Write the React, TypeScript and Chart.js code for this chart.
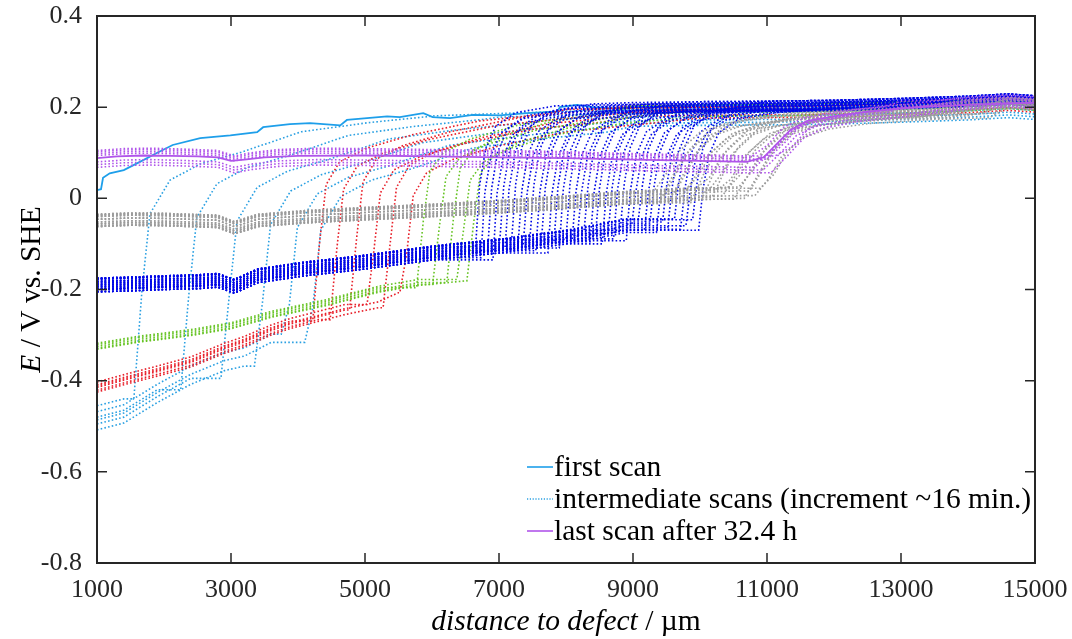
import { useEffect, useRef } from "react";
import { Chart, registerables } from "chart.js";

Chart.register(...registerables);

type P = [number, number];

// ---- axes ----
const xTicks = [1000, 3000, 5000, 7000, 9000, 11000, 13000, 15000];
const yTicks = [-0.8, -0.6, -0.4, -0.2, 0, 0.2, 0.4];
const yTickLabels = ["-0.8", "-0.6", "-0.4", "-0.2", "0", "0.2", "0.4"];

// ---- first & last scans ----
const firstScan: P[] = [
  [1000, 0.018], [1060, 0.02], [1090, 0.045], [1190, 0.055], [1400, 0.062], [1640, 0.08],
  [1900, 0.1], [2130, 0.117], [2540, 0.132], [2990, 0.138], [3390, 0.145], [3480, 0.156],
  [3880, 0.163], [4180, 0.165], [4630, 0.16], [4730, 0.172], [5030, 0.176], [5330, 0.18],
  [5520, 0.178], [5870, 0.187], [6010, 0.178], [6270, 0.176], [6610, 0.183], [7010, 0.182],
  [7420, 0.187], [7870, 0.19], [7910, 0.2], [8160, 0.205], [8400, 0.2], [8660, 0.198],
  [9000, 0.2], [9600, 0.203], [10300, 0.205], [11000, 0.205], [11800, 0.208], [12600, 0.21],
  [13400, 0.213], [14200, 0.217], [15000, 0.22],
];
const lastScan: P[] = [
  [1000, 0.088], [1300, 0.092], [1700, 0.094], [2100, 0.093], [2500, 0.092], [2800, 0.09],
  [3000, 0.082], [3200, 0.085], [3500, 0.09], [4000, 0.093], [5000, 0.094], [6000, 0.092],
  [7000, 0.09], [8000, 0.088], [9000, 0.085], [10000, 0.082], [10700, 0.08], [10950, 0.09],
  [11150, 0.12], [11350, 0.15], [11600, 0.17], [12000, 0.18], [12500, 0.19], [13000, 0.198],
  [14000, 0.205], [15000, 0.21],
];

// common plateau the intermediate scans end on
const plateauTail: P[] = [
  [5000, 0.18], [6000, 0.186], [7000, 0.19], [8000, 0.195], [9000, 0.198], [10000, 0.2],
  [11000, 0.201], [12000, 0.203], [13000, 0.207], [14000, 0.212], [14600, 0.217], [15000, 0.213],
];

// ---- light blue (early) scans ----
const lightBlueLow: P[] = [
  [1000, -0.48], [1400, -0.465], [1900, -0.42], [2400, -0.38], [2900, -0.35], [3200, -0.34],
  [3600, -0.31], [4100, -0.28],
];
const lightBlueRise: P[] = [
  [120, -0.2], [240, -0.03], [540, 0.044], [1000, 0.08], [1600, 0.105], [2000, 0.125],
  [2500, 0.15], [3500, 0.17], [4500, 0.185],
];
const lightBlueFronts = [1550, 2250, 2850, 3350, 3750, 4100];
const lightBlueLowShift = [0.025, 0.0, -0.015, -0.028, 0.012, -0.006];
const lightBlueTopShift = [-0.004, -0.012, -0.02, -0.028, -0.034, -0.04];

// ---- red scans ----
const redLow: P[] = [
  [1000, -0.415], [1500, -0.395], [1900, -0.38], [2400, -0.36], [2900, -0.33], [3200, -0.315],
  [3600, -0.29], [3900, -0.275], [4300, -0.26], [4700, -0.245], [5200, -0.23], [5500, -0.21],
];
const redRise: P[] = [
  [100, -0.1], [200, 0.03], [400, 0.08], [800, 0.11], [1500, 0.14], [2500, 0.17], [3500, 0.185],
];
const redFronts = [4220, 4480, 4770, 5030, 5270, 5520];
const redLowShift = [0.006, -0.006, 0.0, 0.012, -0.01, 0.003];
const redTopShift = [0.0, -0.01, 0.006, -0.018, -0.006, -0.024];

// ---- green scans ----
const greenLow: P[] = [
  [1000, -0.325], [1600, -0.31], [2400, -0.295], [3000, -0.28], [3600, -0.255], [4400, -0.23],
  [5200, -0.2], [5800, -0.185], [6500, -0.175],
];
const greenRise: P[] = [
  [100, -0.05], [200, 0.06], [400, 0.1], [800, 0.13], [1500, 0.16], [2500, 0.185],
];
const greenFronts = [5770, 6010, 6220, 6370, 6520];
const greenLowShift = [0.004, -0.004, 0.0, 0.007, -0.006];
const greenTopShift = [0.0, -0.012, 0.006, -0.02, -0.006];

// ---- blue scans ----
const blueLow: P[] = [
  [1000, -0.19], [1500, -0.188], [2000, -0.185], [2500, -0.183], [2800, -0.18], [3050, -0.193],
  [3400, -0.17], [4100, -0.155], [5000, -0.14], [6000, -0.12], [7000, -0.105], [8000, -0.085],
  [8900, -0.06], [9500, -0.06], [10000, -0.065],
];
const blueRise: P[] = [
  [60, 0.02], [150, 0.1], [300, 0.15], [600, 0.18], [1200, 0.195],
];
const blueFronts = [
  6650, 6730, 6830, 6910, 7010, 7090, 7190, 7280, 7360, 7460, 7550, 7630, 7730, 7820, 7900,
  8000, 8090, 8170, 8270, 8360, 8440, 8540, 8630, 8710, 8810, 8900, 8980, 9080, 9170, 9250,
  9350, 9440, 9520, 9620, 9710, 9790, 9890, 9980,
];
const blueLowShift = [0.013, -0.01, 0.004, -0.015, 0.008, -0.004, 0.015, -0.008, 0.0];
const blueTopShift = [0.008, -0.006, 0.002, -0.01, 0.005, 0.0, 0.012, -0.004, -0.008];

// ---- grey scans ----
const greyLow: P[] = [
  [1000, -0.05], [1500, -0.047], [2000, -0.048], [2800, -0.052], [3050, -0.066], [3400, -0.05],
  [4100, -0.042], [5000, -0.035], [6000, -0.028], [7000, -0.02], [8000, -0.01], [8900, 0.0],
  [9900, 0.008], [10500, 0.012], [10900, 0.015],
];
const greyRise: P[] = [
  [200, 0.06], [400, 0.11], [700, 0.15], [1100, 0.17], [1700, 0.182], [2500, 0.19], [3500, 0.195],
];
const greyFronts = [
  9300, 9380, 9460, 9540, 9620, 9700, 9780, 9860, 9940, 10020, 10100, 10180, 10260, 10340,
  10420, 10500, 10580, 10660, 10740, 10820, 10900,
];
const greyLowShift = [0.013, -0.012, 0.004, -0.006, 0.01, -0.002, 0.015, -0.01];
const greyTopShift = [-0.005, -0.014, 0.0, -0.01, 0.004, -0.018, -0.008];

// ---- purple (late) scans ----
const purpleLow: P[] = [
  [1000, 0.09], [1400, 0.094], [1800, 0.095], [2300, 0.093], [2800, 0.09], [3050, 0.078],
  [3300, 0.085], [3700, 0.092], [4300, 0.095], [5000, 0.094], [6000, 0.092], [7000, 0.09],
  [8000, 0.087], [9000, 0.083], [10000, 0.08], [10700, 0.078],
];
const purpleRise: P[] = [
  [250, 0.11], [500, 0.15], [800, 0.17], [1300, 0.185], [2000, 0.195],
];
const purpleFronts = [10750, 10820, 10880, 10940, 11000, 11060, 11120];
const purpleLowShift = [0.012, -0.01, 0.004, -0.016, 0.008, -0.022, 0.015];
const purpleTopShift = [0.006, -0.006, 0.0, -0.012, 0.01, -0.016, 0.003];

// ---- styles ----
const C_FIRST = "#1E9FEA";
const C_LBLUE = "#2AA0E2";
const C_RED = "#E8202A";
const C_GREEN = "#68C426";
const C_BLUE = "#0008E6";
const C_GREY = "#9C9C9C";
const C_PURPLE = "#B055EA";
const AX = "#262626";
const FONT = "'Liberation Serif', 'Times New Roman', serif";

function buildScan(low: P[], lowShift: number, front: number, rise: P[], topShift: number) {
  const pts: { x: number; y: number }[] = [];
  let lastY = low[0][1] + lowShift;
  for (const [x, y] of low) {
    if (x < front) {
      pts.push({ x, y: y + lowShift });
      lastY = y + lowShift;
    }
  }
  pts.push({ x: front, y: lastY });
  let lastX = front;
  for (const [dx, y] of rise) {
    pts.push({ x: front + dx, y: y + topShift });
    lastX = front + dx;
  }
  for (const [x, y] of plateauTail) {
    if (x > lastX + 150) pts.push({ x, y: y + topShift });
  }
  return pts;
}

function group(low: P[], fronts: number[], lowShift: number[], rise: P[], topShift: number[], color: string) {
  return fronts.map((f, i) => ({
    data: buildScan(low, lowShift[i % lowShift.length], f, rise, topShift[i % topShift.length]),
    borderColor: color,
    borderWidth: 1.6,
    borderDash: [1.6, 2.2],
  }));
}

const framePlugin = {
  id: "frame",
  afterDraw(chart: any) {
    const { ctx, chartArea: a, scales } = chart;
    ctx.save();
    // box
    ctx.strokeStyle = AX;
    ctx.lineWidth = 2;
    ctx.strokeRect(a.left, a.top, a.right - a.left, a.bottom - a.top);
    // inward ticks
    ctx.lineWidth = 1.5;
    const tl = 10;
    for (const v of xTicks) {
      const px = scales.x.getPixelForValue(v);
      ctx.beginPath();
      ctx.moveTo(px, a.bottom);
      ctx.lineTo(px, a.bottom - tl);
      ctx.moveTo(px, a.top);
      ctx.lineTo(px, a.top + tl);
      ctx.stroke();
    }
    for (const v of yTicks) {
      const py = scales.y.getPixelForValue(v);
      ctx.beginPath();
      ctx.moveTo(a.left, py);
      ctx.lineTo(a.left + tl, py);
      ctx.moveTo(a.right, py);
      ctx.lineTo(a.right - tl, py);
      ctx.stroke();
    }
    // axis titles
    ctx.fillStyle = "#000";
    ctx.textBaseline = "middle";
    const drawSegs = (segs: [string, boolean][], cx: number, cy: number, rot: number) => {
      ctx.save();
      ctx.translate(cx, cy);
      ctx.rotate(rot);
      let total = 0;
      for (const [t, it] of segs) {
        ctx.font = `${it ? "italic " : ""}29.5px ${FONT}`;
        total += ctx.measureText(t).width;
      }
      let x = -total / 2;
      ctx.textAlign = "left";
      for (const [t, it] of segs) {
        ctx.font = `${it ? "italic " : ""}29.5px ${FONT}`;
        ctx.fillText(t, x, 0);
        x += ctx.measureText(t).width;
      }
      ctx.restore();
    };
    drawSegs([["E", true], [" / V vs. SHE", false]], 32, (a.top + a.bottom) / 2, -Math.PI / 2);
    drawSegs([["distance to defect", true], [" / \u00b5m", false]], (a.left + a.right) / 2, 622, 0);

    // legend
    const items: [string, string, boolean][] = [
      ["first scan", C_FIRST, false],
      ["intermediate scans (increment ~16 min.)", C_LBLUE, true],
      ["last scan after 32.4 h", C_PURPLE, false],
    ];
    ctx.font = `29.5px ${FONT}`;
    ctx.textAlign = "left";
    items.forEach(([label, col, dotted], i) => {
      const y = 467 + i * 32;
      ctx.strokeStyle = col;
      ctx.lineWidth = dotted ? 1.4 : 1.6;
      ctx.setLineDash(dotted ? [1.2, 1.6] : []);
      ctx.beginPath();
      ctx.moveTo(527, y);
      ctx.lineTo(553, y);
      ctx.stroke();
      ctx.setLineDash([]);
      ctx.fillStyle = "#000";
      ctx.fillText(label, 554, y + 1);
    });
    ctx.restore();
  },
};

export default function App() {
  const ref = useRef<HTMLCanvasElement | null>(null);
  useEffect(() => {
    if (!ref.current) return;
    const datasets: any[] = [
      { data: firstScan.map(([x, y]) => ({ x, y })), borderColor: C_FIRST, borderWidth: 1.8 },
      ...group(lightBlueLow, lightBlueFronts, lightBlueLowShift, lightBlueRise, lightBlueTopShift, C_LBLUE),
      ...group(redLow, redFronts, redLowShift, redRise, redTopShift, C_RED),
      ...group(greenLow, greenFronts, greenLowShift, greenRise, greenTopShift, C_GREEN),
      ...group(blueLow, blueFronts, blueLowShift, blueRise, blueTopShift, C_BLUE),
      ...group(greyLow, greyFronts, greyLowShift, greyRise, greyTopShift, C_GREY),
      ...group(purpleLow, purpleFronts, purpleLowShift, purpleRise, purpleTopShift, C_PURPLE),
      { data: lastScan.map(([x, y]) => ({ x, y })), borderColor: C_PURPLE, borderWidth: 1.8 },
    ];
    const n = datasets.length;
    datasets.forEach((d, i) => {
      d.order = n - i;
      d.pointRadius = 0;
      d.fill = false;
      d.tension = 0;
    });
    const chart = new Chart(ref.current, {
      type: "line",
      data: { datasets },
      plugins: [framePlugin],
      options: {
        animation: false,
        responsive: false,
        parsing: false as any,
        normalized: true,
        layout: { padding: { left: 0, top: 16, right: 37, bottom: 0 } },
        plugins: { legend: { display: false }, tooltip: { enabled: false } },
        scales: {
          x: {
            type: "linear",
            min: 1000,
            max: 15000,
            afterBuildTicks: (s: any) => {
              s.ticks = xTicks.map((v) => ({ value: v }));
            },
            afterFit: (s: any) => {
              s.height = 76;
              s.paddingLeft = 0;
              s.paddingRight = 0;
            },
            ticks: {
              callback: (v: any) => String(v),
              font: { family: FONT, size: 26 },
              color: AX,
              padding: 12,
              maxRotation: 0,
              autoSkip: false,
            },
            grid: { display: false, drawTicks: false },
            border: { display: false },
          },
          y: {
            type: "linear",
            min: -0.8,
            max: 0.4,
            afterBuildTicks: (s: any) => {
              s.ticks = yTicks.map((v) => ({ value: v }));
            },
            afterFit: (s: any) => {
              s.width = 97;
              s.paddingTop = 0;
              s.paddingBottom = 0;
            },
            ticks: {
              callback: (v: any) => {
                const i = yTicks.findIndex((t) => Math.abs(t - v) < 1e-9);
                return i >= 0 ? yTickLabels[i] : "";
              },
              font: { family: FONT, size: 26 },
              color: AX,
              padding: 15,
              autoSkip: false,
            },
            grid: { display: false, drawTicks: false },
            border: { display: false },
          },
        },
      },
    });
    return () => chart.destroy();
  }, []);
  return (
    <div style={{ position: "absolute", left: 0, top: 0, width: 1072, height: 639, background: "#fff" }}>
      <canvas ref={ref} width={1072} height={639} style={{ display: "block" }} />
    </div>
  );
}
